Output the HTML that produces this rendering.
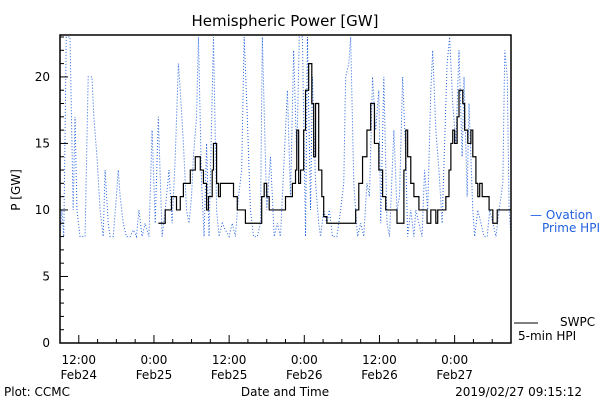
<!DOCTYPE html>
<html><head><meta charset="utf-8"><style>
body{margin:0;background:#fff;width:600px;height:400px;overflow:hidden}
svg text{font-family:"DejaVu Sans","Liberation Sans",sans-serif;font-size:12px}
</style></head><body>
<svg id="c" width="600" height="400">
<text x="285" y="26" text-anchor="middle" style="font-size:15px">Hemispheric Power [GW]</text>
<text transform="translate(20,190) rotate(-90)" text-anchor="middle">P [GW]</text>
<text x="285" y="396" text-anchor="middle">Date and Time</text>
<text x="4" y="396">Plot: CCMC</text>
<text x="582" y="396" text-anchor="end">2019/02/27 09:15:12</text>
<g><text x="530" y="219" fill="#2060e0">— Ovation</text><text x="542" y="232" fill="#2060e0">Prime HPI</text></g>
<g><line x1="514" y1="323" x2="538" y2="323" stroke="#000"/><text x="560" y="326">SWPC</text><text x="518" y="340">5-min HPI</text></g>
<g id="g"></g>
</svg>
<script>
const blueT=[0,0.3,0.6,1.0,1.6,2.1,2.4,2.7,3.2,4.0,4.5,5.1,5.4,5.9,6.4,6.9,7.2,7.7,8.0,8.5,9.0,9.3,9.6,10.1,10.6,11.2,11.7,12.2,12.6,13.1,13.6,14.2,14.7,15.2,15.7,16.3,16.8,17.4,17.9,18.4,18.9,19.2,19.7,20.2,20.6,21.0,21.3,21.8,22.1,22.6,23.0,23.4,23.8,24.5,25.0,25.4,25.9,26.4,27.0,27.5,28.0,28.5,29.0,29.4,29.9,30.4,30.9,31.5,32.0,32.3,33.0,33.6,34.2,34.7,35.2,35.7,36.3,36.8,37.3,37.8,38.2,38.7,39.2,39.5,40.0,40.3,40.8,41.3,41.6,42.1,42.6,43.0,43.5,44.2,44.8,45.3,45.6,46.1,46.4,46.9,47.5,48.0,48.5,49.0,49.4,49.9,50.4,50.9,51.2,51.7,52.2,52.6,53.3,53.8,54.2,54.7,55.2,55.5,56.0,56.5,56.8,57.3,57.8,58.2,58.7,59.2,59.5,60.0,60.5,61.0,61.4,61.8,62.2,62.7,63.2,63.7,64.2,64.5,65.0,65.3,65.6,65.9,66.2,66.7,67.2,67.7,68.2,68.6,69.1,69.6,70.1,70.7,71.0,71.4,71.7,72.0];
const blueV=[8,10,8,23,23,10,17,10,8,8,20,20,17,14,10,8,13,9,8,8,11,13,11,9,8,8,8.5,8,10,8,9,8,16,9,17,8,10,13,9,14,21,19,15,10,9,11,14,17,23,12,8,15,8,23,10,8,9,8.5,8,9,8,11,13,23,17,10,8,8,9,23,10,14,8,9,8,13,19,11,22,14,23,23,8,23,10,20,12,9,8,10,9,10,8,8,10,12,20,21,23,12,8,9,8,12,11,20,16,19,9,20,9,8,16,10,11,20,14,8,10,8,10,9,8,13,10,19,22,16,13,9,15,21,23,18,15,22,14,20,11,18,14,10,8,10,9,8,8,10,9,8,10,12,22,20,10,8];
const swpcT=[15.7,16.8,17.8,18.6,19.2,19.7,20.0,20.8,21.6,22.4,22.9,23.4,23.7,24.3,24.5,25.0,25.3,25.6,26.6,27.7,28.3,29.6,31.7,32.2,32.6,33.0,33.4,34.2,36.0,37.1,37.6,37.8,38.1,38.4,38.9,39.2,39.7,40.2,40.5,40.8,41.3,41.8,42.1,42.6,46.7,47.2,47.7,48.3,49.0,49.6,50.2,50.9,51.5,52.0,53.1,53.8,54.4,54.9,55.2,55.5,56.0,56.5,57.3,58.6,59.2,59.7,60.0,60.3,60.8,61.6,62.1,62.4,62.7,63.0,63.4,63.7,64.3,64.6,65.1,65.6,65.9,66.4,66.7,67.0,67.4,67.8,68.5,69.1,69.4,69.8,72.0];
const swpcV=[9,10,11,10,11,12,12,13,14,13,12,10,11,13,15,12,11,12,12,11,10,9,9,11,12,11,10,10,11,12,13,16,12,13,16,19,21,18,14,18,13,11,9.5,9,9,10,12,14,16,18,15,13,11,10,10,9,9,13,16,14,12,11,10,9,10,10,9,10,10,11,13,15,16,15,17,19,18,16,15,16,14,12,11,12,11,11,10,9,9,10,10];
const xTickLabels=[["12:00","Feb24"],["0:00","Feb25"],["12:00","Feb25"],["0:00","Feb26"],["12:00","Feb26"],["0:00","Feb27"]];
const yTicks=[0,5,10,15,20];
const L=60,R=511,T=35,B=343,H0=0,H1=72,V0=0,V1=23.15;
const X=h=>L+(h-H0)/(H1-H0)*(R-L), Y=v=>B-(v-V0)/(V1-V0)*(B-T);
const g=document.getElementById('g'),NS='http://www.w3.org/2000/svg';
function mk(t,a){const e=document.createElementNS(NS,t);for(const k in a)e.setAttribute(k,a[k]);g.appendChild(e);return e;}
let e=mk('polyline',{points:blueT.map((t,i)=>X(t)+','+Y(blueV[i])).join(' '),fill:'none',stroke:'#2060e0','stroke-width':1,'stroke-dasharray':'1,2'});


let pts=[];
swpcT.forEach((t,i)=>{if(i>0)pts.push(X(t)+','+Y(swpcV[i-1]));pts.push(X(t)+','+Y(swpcV[i]));});
e=mk('polyline',{points:pts.join(' '),fill:'none',stroke:'#000','stroke-width':1.2});


e=mk('rect',{x:L,y:T,width:R-L,height:B-T,fill:'none',stroke:'#000','stroke-width':1.5});


for(let v=0;v<=23;v++){const len=v%5==0?8:4;
 e=mk('line',{x1:L,x2:L+len,y1:Y(v),y2:Y(v),stroke:'#000'});
 
 }
yTicks.forEach(v=>{e=mk('text',{x:L-10,y:Y(v)+4,'text-anchor':'end'});e.textContent=v;
 
 });
for(let h=0;h<=72;h+=3){const maj=(h-3)%12==0;
 e=mk('line',{x1:X(h),x2:X(h),y1:B,y2:B-(maj?8:4),stroke:'#000'});
 
 }
xTickLabels.forEach((l,i)=>{const x=X(3+12*i);
 e=mk('text',{x:x,y:364,'text-anchor':'middle'});e.textContent=l[0];
 
 
 e=mk('text',{x:x,y:379,'text-anchor':'middle'});e.textContent=l[1];
 
 });
</script>
</body></html>
